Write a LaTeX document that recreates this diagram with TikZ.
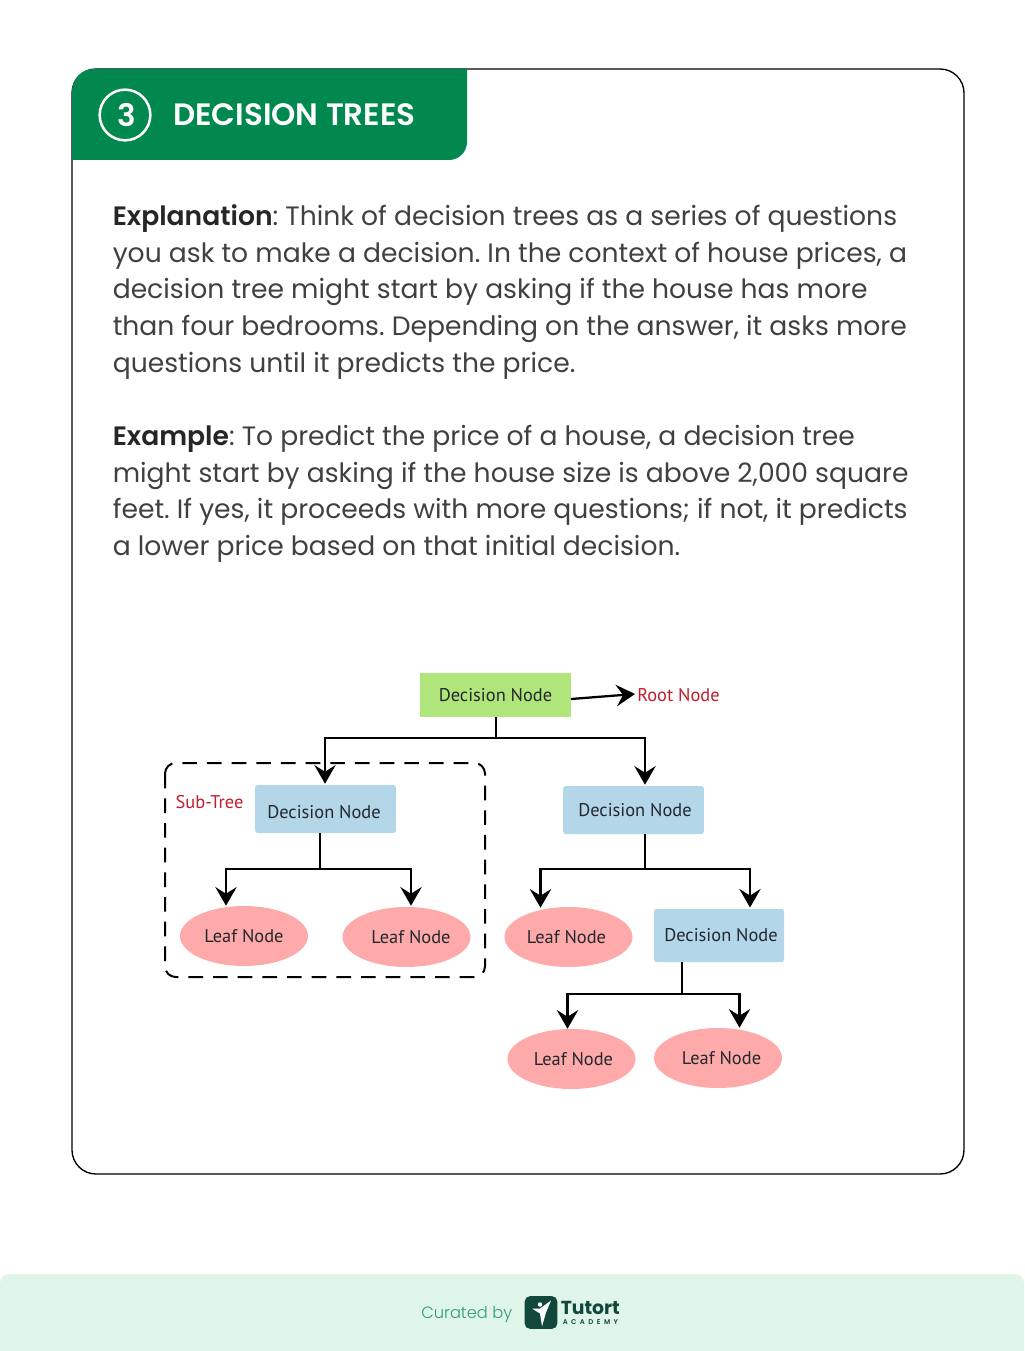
\documentclass[tikz,border=0pt]{standalone}
\usepackage{fontspec}
\setmainfont{Poppins}
\newfontfamily\treefont{PT Sans}
\newfontfamily\semifont{Poppins SemiBold}
\newfontfamily\lightfont{Poppins Light}
\usetikzlibrary{positioning,arrows.meta,calc,shapes.geometric}
\definecolor{cardgreen}{RGB}{0,136,79}
\definecolor{footmint}{RGB}{223,245,234}
\definecolor{footgreen}{RGB}{46,158,107}
\definecolor{logoteal}{RGB}{18,72,60}
\definecolor{bodygrey}{RGB}{64,64,64}
\definecolor{rootgreen}{RGB}{176,229,124}
\definecolor{deciblue}{RGB}{179,214,232}
\definecolor{leafpink}{RGB}{255,170,170}
\definecolor{labelred}{RGB}{190,30,45}
\definecolor{treeink}{RGB}{35,40,45}

\begin{document}
\frenchspacing
\begin{tikzpicture}[>={Stealth[length=14pt,width=16pt,inset=5pt]}, x=0.75pt, y=-0.75pt,
    para/.style={anchor=north west,inner sep=0pt,align=left,text=bodygrey,
                 font=\fontsize{19.95}{27.5}\selectfont},
    dnode/.style={fill=deciblue,rounded corners=2pt,inner sep=0pt,text=treeink,font=\treefont\fontsize{13.8}{16}\selectfont},
    leaf/.style={ellipse,fill=leafpink,minimum width=96pt,minimum height=45pt,inner sep=0pt,text=treeink,
                 font=\treefont\fontsize{13.8}{16}\selectfont},
    tag/.style={inner sep=0pt,text=labelred,font=\treefont\fontsize{13.8}{16}\selectfont},
    wire/.style={line width=1.7pt,black}]
    \useasboundingbox (0,0) rectangle (1024,1351);
    \fill[footmint,rounded corners=7pt] (0,1380) rectangle (1024,1274);
    \draw[line width=1pt,black,rounded corners=18pt] (72,69) rectangle (964,1174);
    \fill[cardgreen] (72,160) {[rounded corners=16.5pt] -- (72,69)} -- (467,69)
        {[rounded corners=13.5pt] -- (467,160)} -- cycle;
    \node[circle,draw=white,line width=1.9pt,minimum size=38pt,inner sep=0pt,text=white,
          font=\semifont\fontsize{23.2}{23}\selectfont] (badge) at (125,115) {\hspace*{2pt}3};
    \node[anchor=west,inner sep=0pt,text=white,font=\semifont\fontsize{23.2}{23}\selectfont] (title) at (173,115) {DECISION TREES};

    \node[para] (explain) at (112.5,204.5) {{\semifont\color{black!85}Explanation}: Think of decision trees as a series of questions\\
        you ask to make a decision. In the context of house prices, a\\
        decision tree might start by asking if the house has more\\
        than four bedrooms. Depending on the answer, it asks more\\
        questions until it predicts the price.};
    \node[para] (example) at (112.5,425) {{\semifont\color{black!85}Example}: To predict the price of a house, a decision tree\\
        might start by asking if the house size is above 2,000 square\\
        feet. If yes, it proceeds with more questions; if not, it predicts\\
        a lower price based on that initial decision.};

    \draw[black,line width=1.5pt,dash pattern=on 11pt off 7.5pt,rounded corners=8pt] (165,763) rectangle (485,977);

    \node[fill=rootgreen,minimum width=113pt,minimum height=33pt,inner sep=0pt,text=treeink,
          font=\treefont\fontsize{13.8}{16}\selectfont] (root) at (495.5,695) {Decision Node};
    \node[dnode,minimum width=105.5pt,minimum height=36pt,text height=14pt,text depth=0pt] (dec1) at (325.5,809) {\hspace*{-2.25pt}Decision Node};
    \node[dnode,minimum width=105.5pt,minimum height=36pt] (dec2) at (633.5,810) {\hspace*{2.25pt}Decision Node};
    \node[dnode,minimum width=97.5pt,minimum height=40pt]  (dec3) at (719,935.5) {\hspace*{3pt}Decision Node};
    \node[leaf] (leaf1) at (244,936) {Leaf Node};
    \node[leaf] (leaf2) at (406.5,937) {\hspace*{6.75pt}Leaf Node};
    \node[leaf] (leaf3) at (568.5,937) {\hspace*{-3pt}Leaf Node};
    \node[leaf] (leaf4) at (571.5,1059) {\hspace*{3pt}Leaf Node};
    \node[leaf] (leaf5) at (718,1058) {\hspace*{5.25pt}Leaf Node};
    \node[tag,anchor=west] (rootlabel) at (637,695) {Root Node};
    \node[tag] (sublabel) at (209.5,802) {Sub-Tree};

    \coordinate (bus0) at ($(root.south)+(0.5,21)$);
    \coordinate (bus1) at ($(dec1.south)+(-5.5,36)$);
    \coordinate (bus2) at ($(dec2.south)+(11.5,35)$);
    \coordinate (bus3) at ($(dec3.south)+(-37,31.5)$);
    \draw[wire] ($(root.south)+(0.5,0)$)--(bus0);
    \draw[wire] ($(dec1.south)+(-5.5,0)$)--(bus1);
    \draw[wire] ($(dec2.south)+(11.5,0)$)--(bus2);
    \draw[wire] ($(dec3.south)+(-37,0)$)--(bus3);
    \draw[wire,->] (bus0) -| ($(dec1.north)+(-0.5,-1)$);
    \draw[wire,->] (bus0) -| ($(dec2.north)+(11.5,-1)$);
    \draw[wire,->] (bus1) -| ($(leaf1.north)+(-18,0)$);
    \draw[wire,->] (bus1) -| ($(leaf2.north)+(4.5,-1)$);
    \draw[wire,->] (bus2) -| ($(leaf3.north)+(-28,1)$);
    \draw[wire,->] (bus2) -| ($(dec3.north)+(31,-1)$);
    \draw[wire,->] (bus3) -| ($(leaf4.north)+(-4,0)$);
    \draw[wire,->] (bus3) -| ($(leaf5.north)+(21.5,0)$);
    \draw[wire,->] ($(root.east)+(0,4)$)--($(rootlabel.west)+(-2,-1)$);

    \node[anchor=west,inner sep=0pt,text=footgreen,font=\lightfont\fontsize{12.2}{16}\selectfont] (curated) at (421,1314.5) {Curated by};
    \node[fill=logoteal,rounded corners=4pt,minimum size=24.5pt,inner sep=0pt] (logo) at (541,1312.5) {};
    \fill[white] ($(logo.center)+(-9,-4)$) -- ($(logo.center)+(-1,-4)$) -- ($(logo.center)+(10,-12)$)
        -- ($(logo.center)+(5,0)$) -- ($(logo.center)+(1,14)$) -- ($(logo.center)+(-1,1)$) -- cycle;
    \fill[white] ($(logo.center)+(-1,-8)$) circle[radius=2.2];
    \node[anchor=west,inner sep=0pt,text=logoteal,font=\bfseries\fontsize{14.1}{15}\selectfont] (tutort) at (560.5,1307.5) {Tutort};
    \node[anchor=west,inner sep=0pt,text=logoteal,font=\semifont\fontsize{5.2}{6}\selectfont] (academy) at (562.5,1322.5) {A\,\,\,C\,\,\,A\,\,\,D\,\,\,E\,\,\,M\,\,\,Y};
  \end{tikzpicture}
\end{document}
